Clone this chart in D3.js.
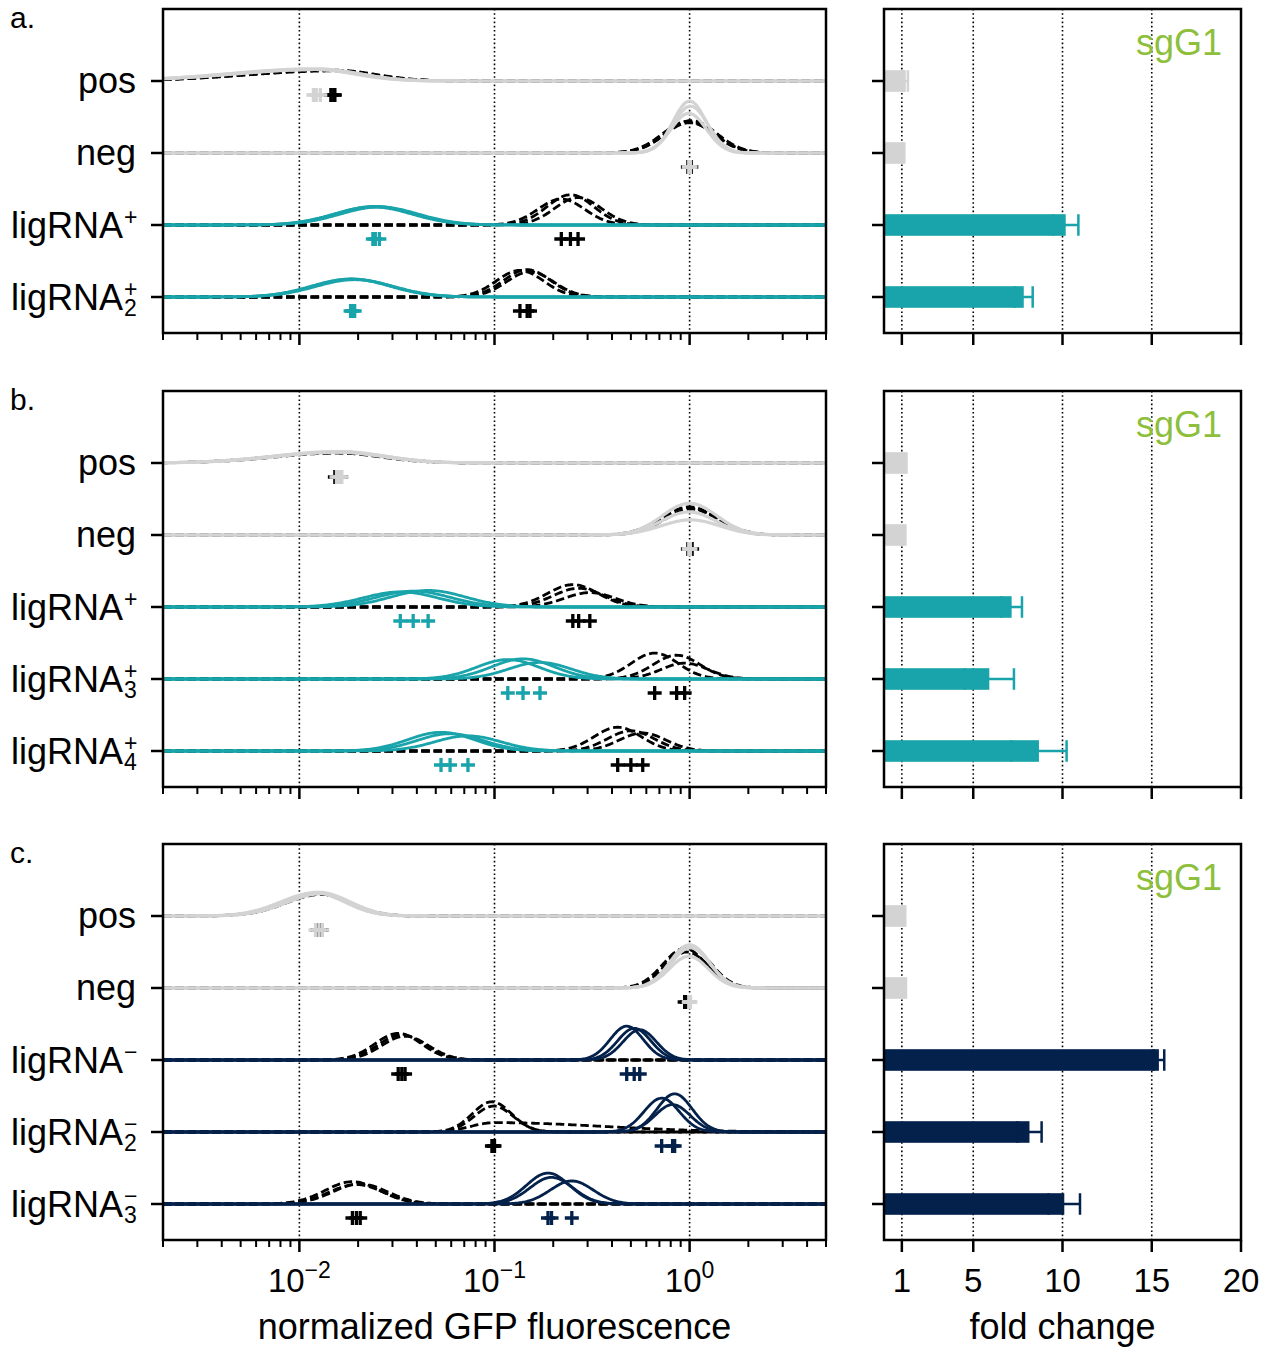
<!DOCTYPE html>
<html>
<head>
<meta charset="utf-8">
<script src="https://cdnjs.cloudflare.com/ajax/libs/d3/7.8.5/d3.min.js"></script>
<style>
  body { margin: 0; background: #fff; }
  text { font-family: "Liberation Sans", Arial, sans-serif; fill: #000; }
</style>
</head>
<body>
<svg id="fig" width="1271" height="1348"></svg>
<script>
// ---------------------------------------------------------------
// Row labels per panel ("_" = subscript, "^" = superscript)
const rowsA = ["pos", "neg", "ligRNA^+", "ligRNA_2^+"];
const rowsB = ["pos", "neg", "ligRNA^+", "ligRNA_3^+", "ligRNA_4^+"];
const rowsC = ["pos", "neg", "ligRNA^−", "ligRNA_2^−", "ligRNA_3^−"];

// colour class of each row
const kindA = ["ctrl", "ctrl", "act", "act"];
const kindB = ["ctrl", "ctrl", "act", "act", "act"];
const kindC = ["ctrl", "ctrl", "rep", "rep", "rep"];

// Replicate distributions: [median, spread left (decades), spread right (decades), peak height (row units)]
// dashed black = without ligand, solid coloured = with ligand
const noLigandA = [
  [[0.0145, 0.44, 0.21, 0.15], [0.0150, 0.44, 0.21, 0.14], [0.0152, 0.44, 0.21, 0.15]],
  [[0.98, 0.13, 0.13, 0.44], [1.00, 0.13, 0.13, 0.42], [1.02, 0.13, 0.13, 0.45]],
  [[0.220, 0.12, 0.12, 0.36], [0.245, 0.12, 0.12, 0.42], [0.268, 0.12, 0.12, 0.38]],
  [[0.135, 0.12, 0.12, 0.37], [0.147, 0.12, 0.12, 0.38], [0.152, 0.12, 0.12, 0.35]]
];
const ligandA = [
  [[0.0118, 0.44, 0.21, 0.16], [0.0122, 0.44, 0.21, 0.17], [0.0128, 0.44, 0.21, 0.16]],
  [[1.00, 0.085, 0.085, 0.72], [1.01, 0.09, 0.09, 0.65], [0.99, 0.09, 0.09, 0.55]],
  [[0.0238, 0.2, 0.2, 0.25], [0.0245, 0.2, 0.2, 0.26], [0.0257, 0.2, 0.2, 0.25]],
  [[0.0183, 0.2, 0.2, 0.25], [0.0187, 0.2, 0.2, 0.25], [0.0192, 0.2, 0.2, 0.24]]
];

const noLigandB = [
  [[0.0152, 0.33, 0.23, 0.14], [0.0158, 0.33, 0.23, 0.15], [0.0163, 0.33, 0.23, 0.14]],
  [[0.98, 0.14, 0.14, 0.38], [1.00, 0.14, 0.14, 0.39], [1.03, 0.14, 0.14, 0.36]],
  [[0.252, 0.13, 0.13, 0.31], [0.270, 0.13, 0.13, 0.26], [0.308, 0.13, 0.13, 0.20]],
  [[0.662, 0.12, 0.12, 0.36], [0.858, 0.12, 0.12, 0.33], [0.943, 0.12, 0.12, 0.22]],
  [[0.428, 0.12, 0.12, 0.33], [0.500, 0.12, 0.12, 0.28], [0.575, 0.12, 0.12, 0.25]]
];
const ligandB = [
  [[0.0155, 0.33, 0.23, 0.15], [0.0160, 0.33, 0.23, 0.16], [0.0165, 0.33, 0.23, 0.15]],
  [[1.00, 0.14, 0.14, 0.44], [0.99, 0.14, 0.14, 0.32], [1.01, 0.15, 0.15, 0.21]],
  [[0.0329, 0.19, 0.19, 0.21], [0.0383, 0.19, 0.19, 0.22], [0.0457, 0.19, 0.19, 0.23]],
  [[0.117, 0.16, 0.16, 0.27], [0.140, 0.16, 0.16, 0.28], [0.171, 0.16, 0.16, 0.23]],
  [[0.0532, 0.17, 0.17, 0.26], [0.0592, 0.17, 0.17, 0.24], [0.0731, 0.17, 0.17, 0.21]]
];

const noLigandC = [
  [[0.0124, 0.18, 0.15, 0.31], [0.0127, 0.18, 0.15, 0.32], [0.0130, 0.18, 0.15, 0.30]],
  [[0.943, 0.11, 0.11, 0.55], [0.97, 0.11, 0.11, 0.50], [0.99, 0.11, 0.11, 0.58]],
  [[0.0321, 0.12, 0.12, 0.37], [0.0335, 0.12, 0.12, 0.35], [0.0348, 0.12, 0.12, 0.33]],
  [[0.097, 0.10, 0.10, 0.42], [0.099, 0.10, 0.10, 0.36], [0.100, 0.12, 0.55, 0.13]],
  [[0.0187, 0.14, 0.14, 0.31], [0.0196, 0.14, 0.14, 0.27], [0.0205, 0.14, 0.14, 0.28]]
];
const ligandC = [
  [[0.0121, 0.18, 0.15, 0.32], [0.0126, 0.18, 0.15, 0.33], [0.0131, 0.18, 0.15, 0.31]],
  [[1.00, 0.10, 0.10, 0.60], [1.01, 0.10, 0.10, 0.56], [0.99, 0.10, 0.10, 0.44]],
  [[0.476, 0.085, 0.085, 0.47], [0.520, 0.085, 0.085, 0.44], [0.555, 0.085, 0.085, 0.42]],
  [[0.719, 0.09, 0.09, 0.47], [0.818, 0.09, 0.09, 0.38], [0.838, 0.09, 0.09, 0.53]],
  [[0.188, 0.11, 0.11, 0.43], [0.196, 0.11, 0.11, 0.37], [0.249, 0.11, 0.11, 0.32]]
];

// Fold change (mean and error) per row
const foldA = [1.22, 1.10, 10.18, 7.83];
const foldErrA = [0.12, 0.04, 0.71, 0.50];
const foldB = [1.20, 1.15, 7.15, 5.90, 8.68];
const foldErrB = [0.06, 0.05, 0.58, 1.38, 1.55];
const foldC = [1.14, 1.18, 15.40, 8.15, 10.10];
const foldErrC = [0.05, 0.05, 0.30, 0.68, 0.88];

// Axis ticks
const decadeTicks = [0.01, 0.1, 1];
const decadeExponents = ["−2", "−1", "0"];
const foldTicks = [1, 5, 10, 15, 20];
const foldGrid = [1, 5, 10, 15];
const guideName = "sgG1";

// ---------------------------------------------------------------
const colors = { ctrl: "#d3d3d3", act: "#19a3aa", rep: "#03214a" };
const guideColor = "#8dbf3c";

const svg = d3.select("#fig");
const rowStep = 72;
const distRange = [163, 826];
const foldRange = [884, 1241];

const x = d3.scaleLog().domain([0.002, 5]).range(distRange);
const fx = d3.scaleLinear().domain([0, 20]).range(foldRange);

const logGrid = d3.range(0, 601).map(i => Math.log10(0.002) + i * (Math.log10(5) - Math.log10(0.002)) / 600);

function density(rep, lx) {
  const [med, sl, sr, h] = rep;
  const c = Math.log10(med);
  const s = lx < c ? sl : sr;
  const z = (lx - c) / s;
  return h * Math.exp(-0.5 * z * z);
}

function rowLabel(g, label, y) {
  const m = label.match(/^([^_^]+)(?:_(\d))?(?:\^(.))?$/);
  const base = m[1], sub = m[2], sup = m[3];
  if (!sub && !sup) {
    g.append("text").attr("x", 136).attr("y", y + 11.5)
      .attr("text-anchor", "end").style("font-size", "36px").text(base);
    return;
  }
  const by = y + 13;
  g.append("text").attr("x", 123).attr("y", by)
    .attr("text-anchor", "end").style("font-size", "36px").text(base);
  // stacked super/subscript in one text element
  const s = g.append("text").style("font-size", "23px");
  if (sup) s.append("tspan").attr("x", 124).attr("y", by - 13).text(sup);
  if (sub) s.append("tspan").attr("x", 124).attr("y", by + 6).text(sub);
}

function drawPanel(cfg) {
  const n = cfg.rows.length;
  const top = cfg.top;
  const bottom = top + (n + 0.5) * rowStep;
  const y = d3.scaleLinear().domain([-1, n - 0.5]).range([top, bottom]);
  const g = svg.append("g");

  // panel letter
  g.append("text").attr("x", 10).attr("y", top + 18.5).style("font-size", "30px").text(cfg.letter);

  // ---- distribution axes ----
  const dist = g.append("g");
  // dotted decade guides
  dist.selectAll("line.grid").data(decadeTicks).join("line")
    .attr("x1", d => x(d)).attr("x2", d => x(d))
    .attr("y1", top).attr("y2", bottom)
    .attr("stroke", "#000").attr("stroke-width", 1.6).attr("stroke-dasharray", "1.6,2.6");

  const line = d3.line().x(d => x(Math.pow(10, d[0]))).y(d => y(d[1]));

  cfg.rows.forEach((label, i) => {
    const col = colors[cfg.kind[i]];
    // without ligand: black dashed
    cfg.noLig[i].forEach(rep => {
      dist.append("path")
        .attr("d", line(logGrid.map(l => [l, i - density(rep, l)])))
        .attr("fill", "none").attr("stroke", "#000").attr("stroke-width", 2.8)
        .attr("stroke-dasharray", "8.5,3.8");
    });
    // with ligand: coloured solid
    cfg.lig[i].forEach(rep => {
      dist.append("path")
        .attr("d", line(logGrid.map(l => [l, i - density(rep, l)])))
        .attr("fill", "none").attr("stroke", col)
        .attr("stroke-width", cfg.kind[i] === "ctrl" ? 3.2 : 2.8);
    });
  });

  // median markers
  const plus = (sel, xs, yy, col) => {
    xs.forEach(v => {
      const cx = x(v);
      sel.append("path")
        .attr("d", `M${cx - 7},${yy}H${cx + 7}M${cx},${yy - 7}V${yy + 7}`)
        .attr("stroke", col).attr("stroke-width", 3.3).attr("fill", "none");
    });
  };
  cfg.rows.forEach((label, i) => {
    const yy = y(i) + 14;
    plus(dist, cfg.noLig[i].map(r => r[0]), yy, "#000");
    plus(dist, cfg.lig[i].map(r => r[0]), yy, colors[cfg.kind[i]]);
  });

  // y ticks and labels
  cfg.rows.forEach((label, i) => {
    dist.append("line").attr("x1", distRange[0] - 12).attr("x2", distRange[0])
      .attr("y1", y(i)).attr("y2", y(i)).attr("stroke", "#000").attr("stroke-width", 2.5);
    rowLabel(g, label, y(i));
  });

  // x ticks (minor and major)
  const minor = [];
  [-3, -2, -1, 0].forEach(e => {
    for (let k = 2; k <= 9; k++) {
      const v = k * Math.pow(10, e);
      if (v >= 0.002 - 1e-12 && v <= 5 + 1e-9) minor.push(v);
    }
  });
  dist.selectAll("line.minor").data(minor).join("line")
    .attr("x1", d => x(d)).attr("x2", d => x(d))
    .attr("y1", bottom).attr("y2", bottom + 7)
    .attr("stroke", "#000").attr("stroke-width", 2);
  dist.selectAll("line.major").data(decadeTicks).join("line")
    .attr("x1", d => x(d)).attr("x2", d => x(d))
    .attr("y1", bottom).attr("y2", bottom + 12)
    .attr("stroke", "#000").attr("stroke-width", 2.5);

  dist.append("rect").attr("x", distRange[0]).attr("y", top)
    .attr("width", distRange[1] - distRange[0]).attr("height", bottom - top)
    .attr("fill", "none").attr("stroke", "#000").attr("stroke-width", 2.5);

  // ---- fold-change axes ----
  const fold = g.append("g");
  fold.selectAll("line.grid").data(foldGrid).join("line")
    .attr("x1", d => fx(d)).attr("x2", d => fx(d))
    .attr("y1", top).attr("y2", bottom)
    .attr("stroke", "#000").attr("stroke-width", 1.6).attr("stroke-dasharray", "1.6,2.6");

  const barH = 0.3 * rowStep;
  cfg.fold.forEach((v, i) => {
    const col = colors[cfg.kind[i]];
    const cy = y(i);
    fold.append("rect").attr("x", fx(0)).attr("y", cy - barH / 2)
      .attr("width", fx(v) - fx(0)).attr("height", barH).attr("fill", col);
    const e = cfg.foldErr[i];
    const lo = fx(v - e), hi = fx(v + e);
    fold.append("path")
      .attr("d", `M${lo},${cy}H${hi}M${lo},${cy - barH / 2}V${cy + barH / 2}M${hi},${cy - barH / 2}V${cy + barH / 2}`)
      .attr("stroke", col).attr("stroke-width", 2.5).attr("fill", "none");
    fold.append("line").attr("x1", foldRange[0] - 12).attr("x2", foldRange[0])
      .attr("y1", cy).attr("y2", cy).attr("stroke", "#000").attr("stroke-width", 2.5);
  });

  fold.selectAll("line.tick").data(foldTicks).join("line")
    .attr("x1", d => fx(d)).attr("x2", d => fx(d))
    .attr("y1", bottom).attr("y2", bottom + 12)
    .attr("stroke", "#000").attr("stroke-width", 2.5);

  fold.append("text").attr("x", 1222).attr("y", top + 46).attr("text-anchor", "end")
    .style("font-size", "36px").style("fill", guideColor).text(guideName);

  fold.append("rect").attr("x", foldRange[0]).attr("y", top)
    .attr("width", foldRange[1] - foldRange[0]).attr("height", bottom - top)
    .attr("fill", "none").attr("stroke", "#000").attr("stroke-width", 2.5);

  if (cfg.labels) {
    decadeTicks.forEach((d, k) => {
      const t = g.append("text").attr("x", x(d)).attr("y", bottom + 52)
        .attr("text-anchor", "middle").style("font-size", "33px");
      t.append("tspan").text("10");
      t.append("tspan").attr("dy", -14).style("font-size", "23px").text(decadeExponents[k]);
    });
    foldTicks.forEach(d => {
      g.append("text").attr("x", fx(d)).attr("y", bottom + 52)
        .attr("text-anchor", "middle").style("font-size", "33px").text(d);
    });
    g.append("text").attr("x", (distRange[0] + distRange[1]) / 2).attr("y", bottom + 99)
      .attr("text-anchor", "middle").style("font-size", "36px").text("normalized GFP fluorescence");
    g.append("text").attr("x", (foldRange[0] + foldRange[1]) / 2).attr("y", bottom + 99)
      .attr("text-anchor", "middle").style("font-size", "36px").text("fold change");
  }
}

drawPanel({ letter: "a.", top: 9, rows: rowsA, kind: kindA, noLig: noLigandA, lig: ligandA, fold: foldA, foldErr: foldErrA });
drawPanel({ letter: "b.", top: 391, rows: rowsB, kind: kindB, noLig: noLigandB, lig: ligandB, fold: foldB, foldErr: foldErrB });
drawPanel({ letter: "c.", top: 844, rows: rowsC, kind: kindC, noLig: noLigandC, lig: ligandC, fold: foldC, foldErr: foldErrC, labels: true });
</script>
</body>
</html>
